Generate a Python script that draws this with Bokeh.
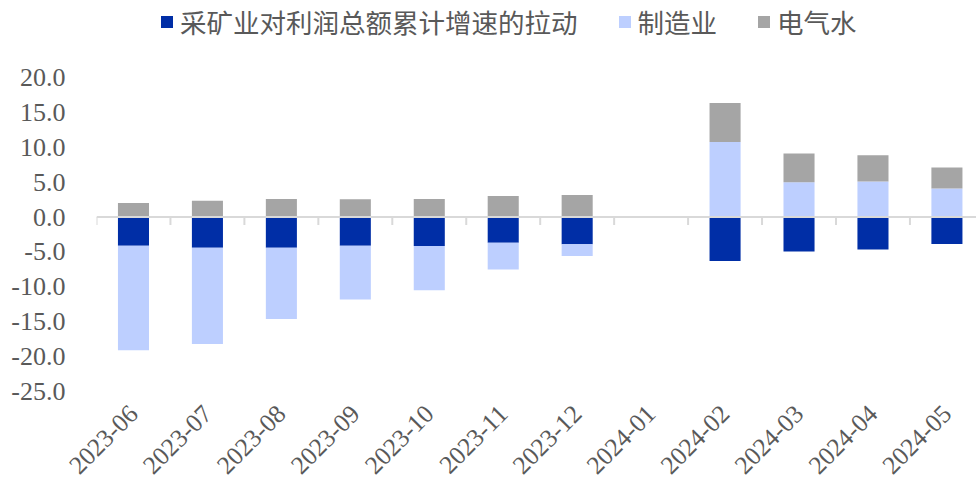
import math
import numpy as np
from bokeh.plotting import figure
from bokeh.models import (Range1d, FixedTicker, Legend, LegendItem, Span,
                          ColumnDataSource, PrintfTickFormatter)
from bokeh.embed import file_html
from bokeh.resources import INLINE

categories = ["2023-06", "2023-07", "2023-08", "2023-09", "2023-10", "2023-11",
              "2023-12", "2024-01", "2024-02", "2024-03", "2024-04", "2024-05"]
mining = [-4.1, -4.4, -4.4, -4.1, -4.15, -3.7, -3.9, float("nan"), -6.3, -4.95, -4.65, -3.85]
manufacturing = [-15.0, -13.8, -10.2, -7.7, -6.35, -3.8, -1.7, float("nan"), 10.75, 5.0, 5.1, 4.1]
utilities = [2.0, 2.35, 2.6, 2.55, 2.6, 3.0, 3.15, float("nan"), 5.6, 4.1, 3.75, 3.0]
series_names = ["采矿业对利润总额累计增速的拉动", "制造业", "电气水"]
series_colors = ["#002EA6", "#BDCFFF", "#A5A5A5"]
y_ticks = [20, 15, 10, 5, 0, -5, -10, -15, -20, -25]

n = len(categories)
x = np.arange(n)

# frame spans to the top of the canvas so the legend sits inside it
Y_TOP = 31.03
p = figure(width=976, height=488, output_backend="svg", toolbar_location=None,
           x_range=Range1d(-0.5, 11.4), y_range=Range1d(-25, Y_TOP),
           min_border_left=96, min_border_right=0, min_border_top=0, min_border_bottom=97)
p.outline_line_color = None
p.xgrid.visible = False
p.ygrid.visible = False
p.background_fill_color = "white"
p.border_fill_color = "white"

pos_base = np.zeros(n)
neg_base = np.zeros(n)
renderers = []
for vals, color in zip([mining, manufacturing, utilities], series_colors):
    v = np.array(vals, dtype=float)
    vz = np.nan_to_num(v)
    bottom = np.where(vz >= 0, pos_base, neg_base)
    top = bottom + vz
    pos_base = np.where(vz >= 0, top, pos_base)
    neg_base = np.where(vz < 0, top, neg_base)
    keep = ~np.isnan(v)
    src = ColumnDataSource(dict(x=x[keep], bottom=bottom[keep], top=top[keep]))
    r = p.vbar(x="x", bottom="bottom", top="top", width=0.42, source=src,
               fill_color=color, line_color=None)
    renderers.append(r)

# zero line with category boundary ticks
p.add_layout(Span(location=0, dimension="width", line_color="#D9D9D9", line_width=2))
bounds = np.arange(n + 1) - 0.5
tick_len = 8 / 6.978  # 8 px expressed in data units
p.segment(x0=bounds, y0=np.zeros(n + 1), x1=bounds, y1=np.full(n + 1, -tick_len),
          line_color="#D9D9D9", line_width=2)

# x axis (category labels)
xa = p.xaxis[0]
xa.ticker = FixedTicker(ticks=list(range(n)))
xa.major_label_overrides = {i: c for i, c in enumerate(categories)}
xa.axis_line_color = None
xa.major_tick_line_color = None
xa.minor_tick_line_color = None
xa.major_label_orientation = math.pi / 4
xa.major_label_text_font = "Liberation Serif"
xa.major_label_text_font_size = "25.5px"
xa.major_label_text_color = "#595959"
xa.major_label_standoff = 12

# y axis
ya = p.yaxis[0]
ya.ticker = FixedTicker(ticks=y_ticks)
ya.formatter = PrintfTickFormatter(format="%.1f")
ya.axis_line_color = None
ya.major_tick_line_color = None
ya.minor_tick_line_color = None
ya.major_label_text_font = "Liberation Serif"
ya.major_label_text_font_size = "26px"
ya.major_label_text_color = "#595959"
ya.major_label_standoff = 25

legend = Legend(items=[LegendItem(label=nm, renderers=[r]) for nm, r in zip(series_names, renderers)],
                orientation="horizontal", location=(63, 350),
                glyph_width=15, glyph_height=15, label_standoff=6, spacing=39,
                padding=0, margin=0, border_line_color=None, background_fill_alpha=0,
                label_text_font="Noto Sans CJK SC", label_text_font_size="26.5px",
                label_text_color="#595959")
p.add_layout(legend, "center")

open("out.html", "w").write(file_html(p, INLINE))
